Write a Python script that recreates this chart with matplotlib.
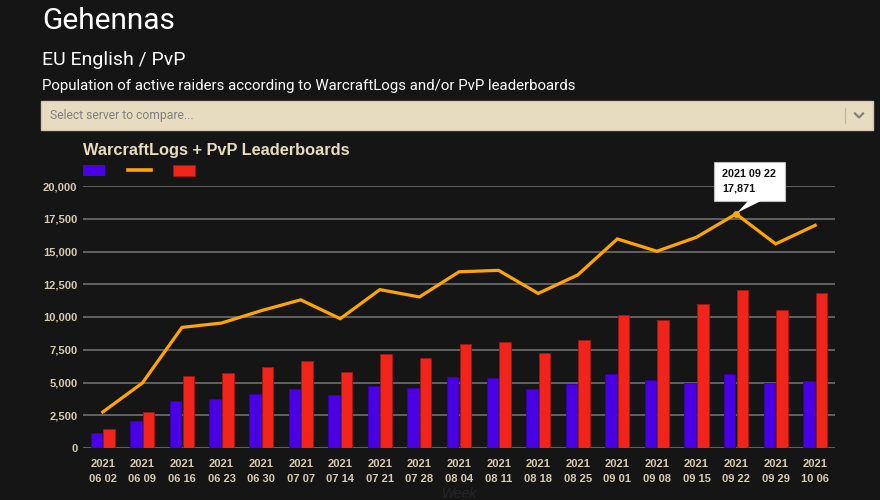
import matplotlib
matplotlib.use('Agg')
import matplotlib.pyplot as plt
import numpy as np
from matplotlib.patches import Rectangle, Polygon
from matplotlib.lines import Line2D
from matplotlib.ticker import FuncFormatter

weeks = ["06 02", "06 09", "06 16", "06 23", "06 30", "07 07", "07 14", "07 21", "07 28", "08 04",
         "08 11", "08 18", "08 25", "09 01", "09 08", "09 15", "09 22", "09 29", "10 06"]
year = "2021"

warcraftlogs = [1170, 2060, 3610, 3740, 4140, 4480, 4020, 4750, 4600, 5390,
                5340, 4480, 4880, 5670, 5160, 4990, 5670, 4940, 5110]
pvp = [1425, 2750, 5460, 5740, 6200, 6660, 5790, 7170, 6835, 7935,
       8090, 7270, 8260, 10150, 9770, 11015, 12065, 10500, 11835]
combined = [2750, 4960, 9205, 9540, 10480, 11310, 9870, 12090, 11530, 13450,
            13560, 11800, 13210, 15960, 15020, 16090, 17871, 15580, 17000]
tooltip_idx = 16

BG = '#151515'
BEIGE = '#e8dcc0'
BLUE = '#4a00e4'
RED = '#f0241a'
ORANGE = '#ffa500'

fig = plt.figure(figsize=(8.8, 5), dpi=100, facecolor=BG)

# page headings
fig.text(42 / 880, 1 - 21 / 500, "Gehennas", family='Roboto', fontsize=21.5,
         color='white', va='center', ha='left')
fig.text(42 / 880, 1 - 60 / 500, "EU English / PvP", family='Roboto', fontsize=14,
         color='white', va='center', ha='left')
fig.text(42 / 880, 1 - 86 / 500,
         "Population of active raiders according to WarcraftLogs and/or PvP leaderboards",
         family='Roboto', fontsize=10.8, color='white', va='center', ha='left')

# fake select box
fig.patches.append(Rectangle((41 / 880, 1 - 130 / 500), 832 / 880, 29 / 500,
                             transform=fig.transFigure, facecolor=BEIGE,
                             edgecolor='#cfc6b2', lw=1))
fig.text(50 / 880, 1 - 115.5 / 500, "Select server to compare...", family='Roboto',
         fontsize=8.7, color='#808080', va='center', ha='left')
fig.lines.append(Line2D([845 / 880, 845 / 880], [1 - 108 / 500, 1 - 123 / 500],
                        transform=fig.transFigure, color='#c4bba8', lw=1))
fig.lines.append(Line2D([855 / 880, 859 / 880, 863 / 880],
                        [1 - 113.5 / 500, 1 - 117.5 / 500, 1 - 113.5 / 500],
                        transform=fig.transFigure, color='#808080', lw=1.6))

# chart
ax = fig.add_axes([83 / 880, 1 - 448 / 500, 752 / 880, 262 / 500])
ax.set_facecolor(BG)
x = np.arange(len(weeks))
w = 0.29
ax.bar(x - 0.16, warcraftlogs, width=w, color=BLUE, edgecolor='#3a00b0', lw=0.6, zorder=2)
ax.bar(x + 0.16, pvp, width=w, color=RED, edgecolor='#a01812', lw=0.6, zorder=2)
ax.plot(x, combined, color=ORANGE, lw=2.3, zorder=3, solid_joinstyle='miter', clip_on=False)
ax.plot([x[tooltip_idx]], [combined[tooltip_idx]], 'o', color=ORANGE, ms=4, zorder=4)

ax.set_xlim(-0.5, len(weeks) - 0.5)
ax.set_ylim(0, 20000)
ax.set_yticks(np.arange(0, 20001, 2500))
ax.yaxis.set_major_formatter(FuncFormatter(lambda v, p: f"{int(v):,}"))
ax.grid(axis='y', color='#6e6e6e', lw=1.2, zorder=1)
ax.set_xticks(x)
ax.set_xticklabels([f"{year}\n{wk}" for wk in weeks], linespacing=1.65)
for s in ax.spines.values():
    s.set_visible(False)
ax.tick_params(length=0, colors='#d8ccb0', labelsize=8)
ax.tick_params(axis='y', pad=4)
ax.tick_params(axis='x', pad=8)
for lab in ax.get_xticklabels() + ax.get_yticklabels():
    lab.set_family('Liberation Sans')
    lab.set_fontweight('bold')
ax.set_xlabel("Week", family='Liberation Sans', style='italic', fontsize=10,
              color='#262626', labelpad=2)

# chart title and legend swatches
fig.text(83 / 880, 1 - 150 / 500, "WarcraftLogs + PvP Leaderboards", family='Liberation Sans',
         fontweight='bold', fontsize=11.8, color=BEIGE, va='center', ha='left')
fig.patches.append(Rectangle((83 / 880, 1 - 175.5 / 500), 22 / 880, 11 / 500,
                             transform=fig.transFigure, facecolor=BLUE, edgecolor='none'))
fig.lines.append(Line2D([128 / 880, 151 / 880], [1 - 170 / 500, 1 - 170 / 500],
                        transform=fig.transFigure, color=ORANGE, lw=2.6))
fig.patches.append(Rectangle((173 / 880, 1 - 175.5 / 500), 22 / 880, 11 / 500,
                             transform=fig.transFigure, facecolor=RED, edgecolor='#a01812', lw=0.6))

# tooltip
fig.canvas.draw()
px, py = ax.transData.transform((x[tooltip_idx], combined[tooltip_idx]))
H = 500
ax_x = lambda v: v / 880
ax_y = lambda v: v / H
left, right = px - 22, px + 49
top, bottom = py + 52, py + 12.5
fig.patches.append(Rectangle((ax_x(left), ax_y(bottom)), ax_x(right - left), ax_y(top - bottom),
                             transform=fig.transFigure, facecolor='white',
                             edgecolor='#bbbbbb', lw=0.8, zorder=5))
fig.patches.append(Polygon([(ax_x(px + 12), ax_y(bottom + 0.5)), (ax_x(px + 25), ax_y(bottom + 0.5)),
                            (ax_x(px + 1), ax_y(py + 1))],
                           closed=True, transform=fig.transFigure, facecolor='white',
                           edgecolor='none', zorder=6))
fig.text(ax_x(left + 8), ax_y(top - 12), f"{year} {weeks[tooltip_idx]}", family='Liberation Sans',
         fontweight='bold', fontsize=7.8, color='#111111', va='center', ha='left', zorder=7)
fig.text(ax_x(left + 8), ax_y(top - 26.5), f"{combined[tooltip_idx]:,}", family='Liberation Sans',
         fontweight='bold', fontsize=7.8, color='#111111', va='center', ha='left', zorder=7)

fig.savefig('out.png', dpi=100, facecolor=BG)
